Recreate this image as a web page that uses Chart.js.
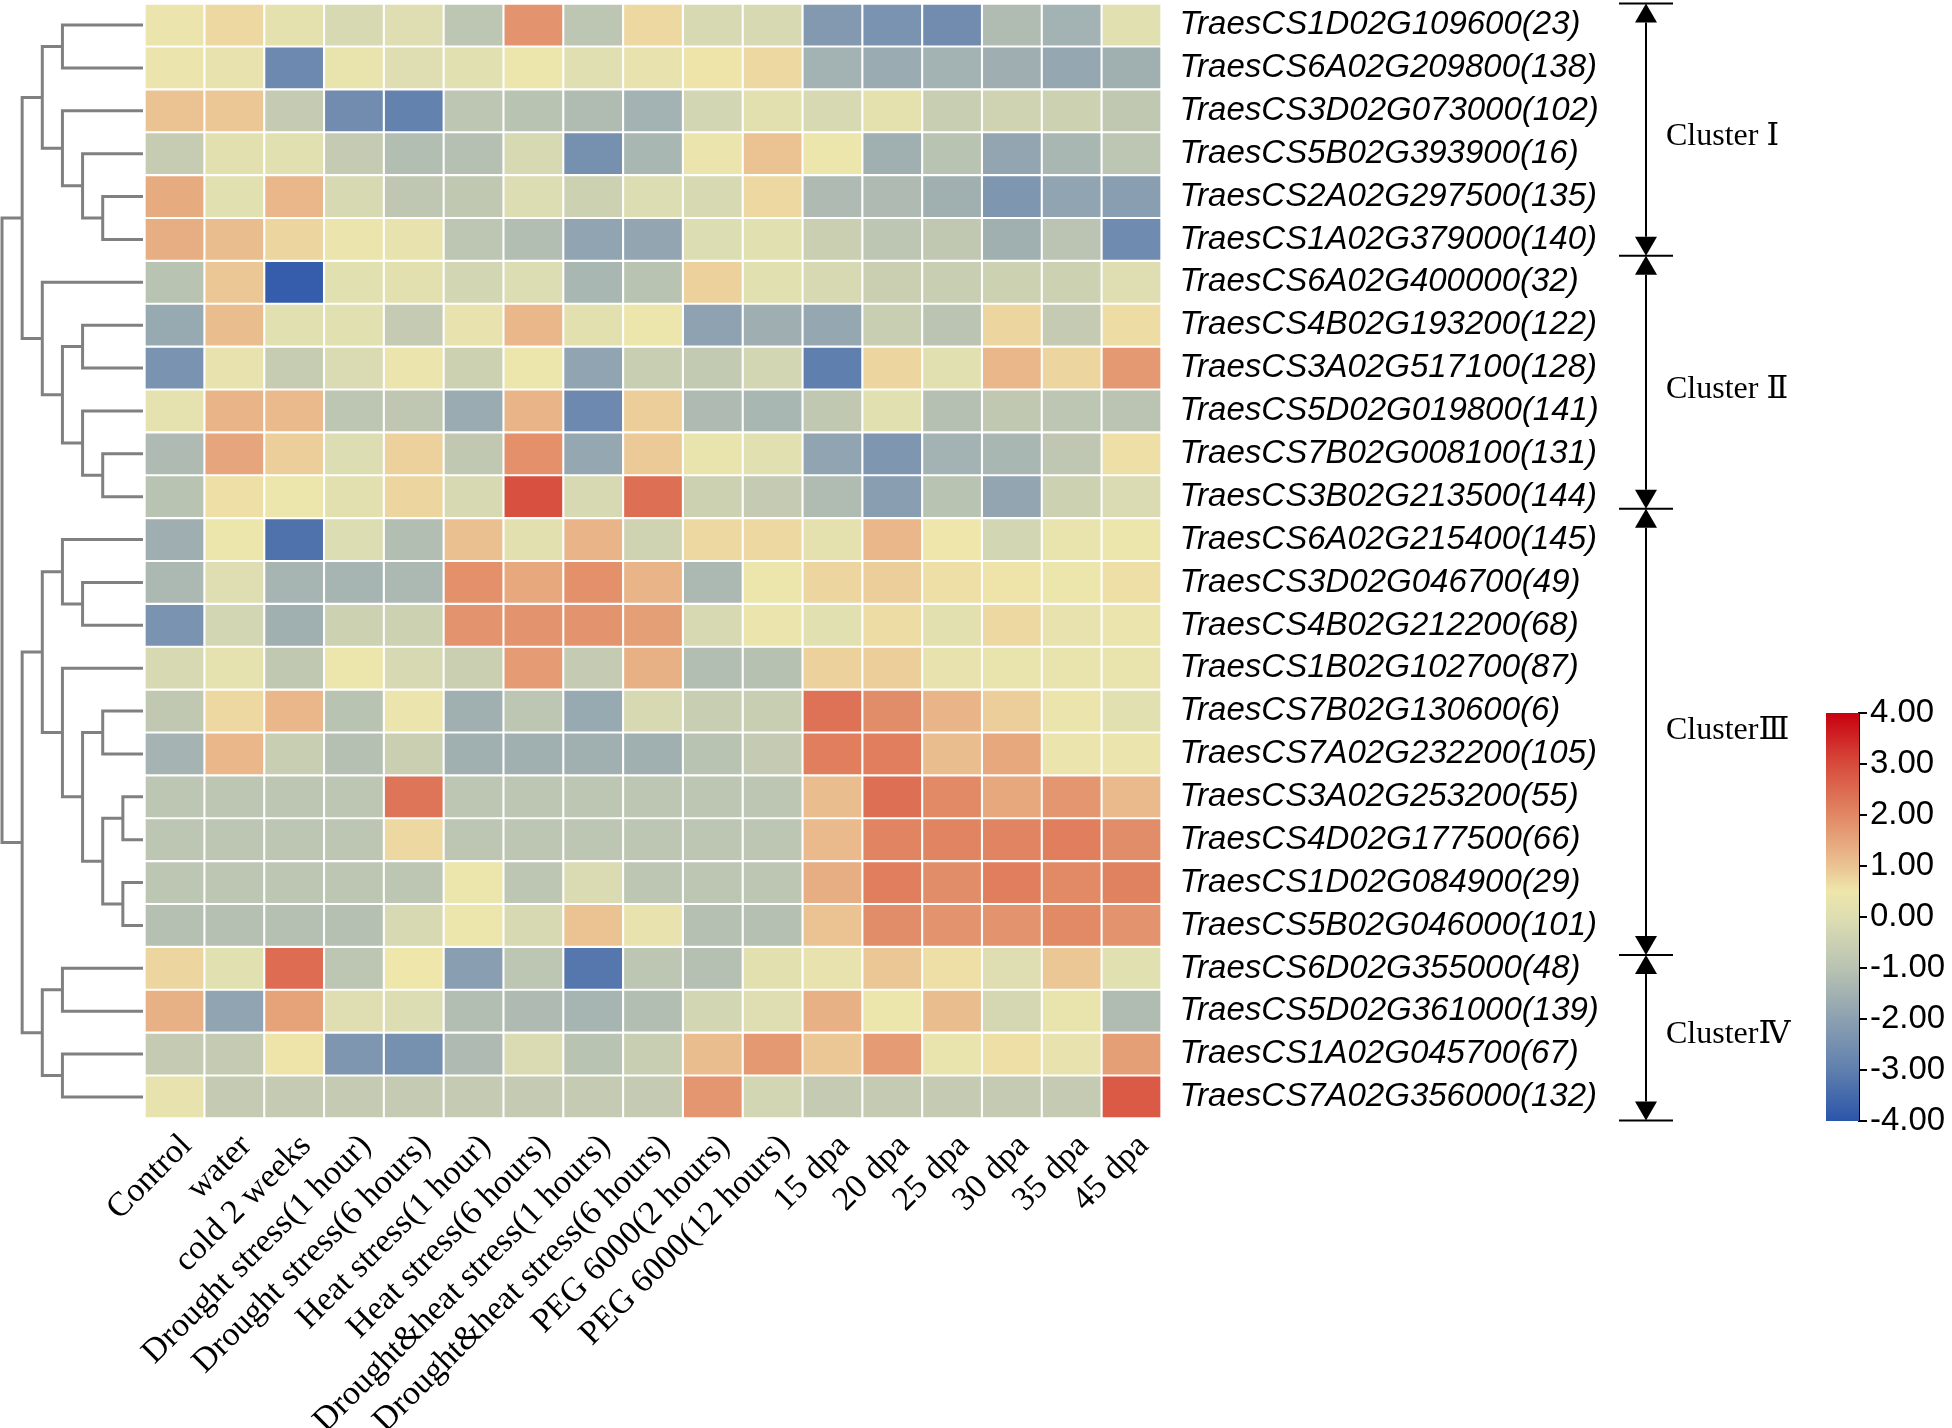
<!DOCTYPE html>
<html>
<head>
<meta charset="utf-8">
<script src="https://cdn.jsdelivr.net/npm/chart.js@4.4.1/dist/chart.umd.min.js"></script>
<style>
  body { margin: 0; background: #fff; }
  #wrap { position: relative; width: 1952px; height: 1428px; }
  canvas { position: absolute; }
</style>
</head>
<body>
<div id="wrap">
  <canvas id="heat" width="1952" height="1428" style="left:0;top:0"></canvas>
  <canvas id="scale" width="252" height="470" style="left:1700px;top:680px"></canvas>
</div>
<script>
// Sample / treatment columns
const columns = [
    'Control', 'water', 'cold 2 weeks',
    'Drought stress(1 hour)', 'Drought stress(6 hours)',
    'Heat stress(1 hour)', 'Heat stress(6 hours)',
    'Drought&heat stress(1 hours)', 'Drought&heat stress(6 hours)',
    'PEG 6000(2 hours)', 'PEG 6000(12 hours)',
    '15 dpa', '20 dpa', '25 dpa', '30 dpa', '35 dpa', '45 dpa'
];

// Genes, top to bottom
const genes = [
    'TraesCS1D02G109600(23)', 'TraesCS6A02G209800(138)', 'TraesCS3D02G073000(102)',
    'TraesCS5B02G393900(16)', 'TraesCS2A02G297500(135)', 'TraesCS1A02G379000(140)',
    'TraesCS6A02G400000(32)', 'TraesCS4B02G193200(122)', 'TraesCS3A02G517100(128)',
    'TraesCS5D02G019800(141)', 'TraesCS7B02G008100(131)', 'TraesCS3B02G213500(144)',
    'TraesCS6A02G215400(145)', 'TraesCS3D02G046700(49)', 'TraesCS4B02G212200(68)',
    'TraesCS1B02G102700(87)', 'TraesCS7B02G130600(6)', 'TraesCS7A02G232200(105)',
    'TraesCS3A02G253200(55)', 'TraesCS4D02G177500(66)', 'TraesCS1D02G084900(29)',
    'TraesCS5B02G046000(101)', 'TraesCS6D02G355000(48)', 'TraesCS5D02G361000(139)',
    'TraesCS1A02G045700(67)', 'TraesCS7A02G356000(132)'
];

// Scaled expression, one row per gene (same order as columns)
const expr = [
    [0.4, 0.7, 0.2, -0.2, 0, -0.9, 1.8, -0.9, 0.7, -0.2, -0.2, -2.2, -2.4, -2.6, -1.2, -1.5, 0.1],
    [0.4, 0.3, -2.7, 0.35, 0, 0.1, 0.45, 0.05, 0.3, 0.55, 0.7, -1.5, -1.7, -1.5, -1.6, -1.8, -1.55],
    [1.0, 0.95, -0.7, -2.6, -2.9, -0.9, -1.0, -1.2, -1.5, -0.3, 0.15, -0.2, 0.2, -0.6, -0.4, -0.5, -0.8],
    [-0.65, 0.15, 0.1, -0.7, -1.15, -1.1, -0.2, -2.5, -1.35, 0.4, 1.0, 0.45, -1.55, -1.0, -1.85, -1.35, -0.9],
    [1.4, 0.1, 1.2, -0.2, -0.85, -0.8, -0.05, -0.5, -0.05, -0.2, 0.7, -1.25, -1.25, -1.55, -2.3, -1.9, -2.05],
    [1.35, 1.1, 0.75, 0.4, 0.3, -0.9, -1.15, -1.9, -1.85, -0.05, 0.1, -0.55, -0.9, -0.8, -1.55, -0.95, -2.65],
    [-1.0, 0.95, -3.8, 0.1, 0.15, -0.3, -0.05, -1.35, -1.0, 0.8, 0.1, -0.2, -0.55, -0.6, -0.5, -0.5, 0.0],
    [-1.75, 1.1, 0.1, 0.1, -0.7, 0.3, 1.2, 0.15, 0.45, -1.95, -1.6, -1.8, -0.6, -0.95, 0.75, -0.7, 0.65],
    [-2.4, 0.3, -0.65, -0.1, 0.4, -0.5, 0.45, -1.9, -0.6, -0.75, -0.3, -3.0, 0.75, 0.1, 1.2, 0.75, 1.7],
    [0.25, 1.25, 1.15, -0.9, -0.85, -1.7, 1.25, -2.7, 0.85, -1.25, -1.35, -0.8, 0.1, -1.1, -0.8, -0.9, -0.95],
    [-1.25, 1.5, 0.85, -0.05, 0.8, -0.8, 1.85, -1.8, 0.9, 0.35, 0.1, -1.9, -2.3, -1.5, -1.35, -0.85, 0.6],
    [-1.0, 0.6, 0.45, 0.15, 0.75, -0.2, 2.9, -0.2, 2.4, -0.5, -0.7, -1.2, -2.05, -1.0, -1.85, -0.5, -0.1],
    [-1.6, 0.45, -3.3, -0.05, -1.15, 1.05, 0.15, 1.25, -0.4, 0.7, 0.7, 0.2, 1.2, 0.5, -0.3, 0.35, 0.45],
    [-1.3, 0, -1.4, -1.4, -1.3, 1.85, 1.45, 1.85, 1.25, -1.3, 0.45, 0.75, 0.85, 0.6, 0.55, 0.45, 0.6],
    [-2.4, -0.3, -1.55, -0.5, -0.5, 1.8, 1.8, 1.8, 1.6, -0.2, 0.4, 0.1, 0.65, 0.15, 0.7, 0.3, 0.4],
    [-0.2, 0.25, -0.8, 0.45, -0.2, -0.55, 1.65, -0.7, 1.3, -1.15, -1.05, 0.8, 0.85, 0.3, 0.35, 0.35, 0.35],
    [-0.8, 0.7, 1.2, -1.0, 0.4, -1.55, -0.9, -1.75, -0.2, -0.6, -0.6, 2.35, 1.9, 1.25, 0.85, 0.4, 0.1],
    [-1.45, 1.2, -0.6, -1.1, -0.55, -1.55, -1.55, -1.55, -1.55, -1.0, -0.7, 2.15, 2.15, 1.1, 1.45, 0.4, 0.4],
    [-0.9, -0.9, -0.9, -0.9, 2.3, -0.9, -0.9, -0.9, -0.9, -0.9, -0.9, 1.1, 2.4, 1.95, 1.45, 1.75, 1.15],
    [-0.9, -0.9, -0.9, -0.9, 0.7, -0.9, -0.9, -0.9, -0.9, -0.9, -0.9, 1.15, 2.05, 2.05, 2.05, 2.15, 1.9],
    [-0.9, -0.9, -0.9, -0.9, -0.9, 0.45, -0.9, -0.1, -0.9, -0.9, -0.9, 1.35, 2.15, 1.9, 2.15, 1.95, 2.1],
    [-1.1, -1.1, -1.1, -1.1, -0.2, 0.45, -0.2, 1.0, 0.3, -1.1, -1.1, 1.0, 1.9, 1.8, 1.8, 1.95, 1.8],
    [0.75, 0.1, 2.45, -0.9, 0.5, -2.05, -0.9, -3.2, -0.9, -1.1, 0.15, 0.3, 0.95, 0.6, 0.0, 0.95, 0.1],
    [1.3, -1.9, 1.55, 0.0, -0.05, -1.15, -1.25, -1.4, -1.15, -0.3, 0, 1.3, 0.45, 1.1, -0.25, 0.35, -1.2],
    [-0.7, -0.7, 0.55, -2.3, -2.5, -1.25, -0.1, -1.0, -0.6, 1.1, 1.7, 0.95, 1.65, 0.35, 0.6, 0.3, 1.6],
    [0.3, -0.7, -0.7, -0.7, -0.7, -0.7, -0.7, -0.7, -0.7, 1.75, -0.3, -0.7, -0.7, -0.7, -0.7, -0.7, 2.75]
];

// Row dendrogram: [child A, child B, merge level]; leaves are 0..25, merge k gets id 26 + k.
// Level 0 is the root, leaves sit at level 7.
const merges = [
    [4, 5, 5], [3, 26, 4], [2, 27, 3], [0, 1, 3], [29, 28, 2],                  // Cluster I (30)
    [7, 8, 4], [10, 11, 5], [9, 32, 4], [31, 33, 3], [6, 34, 2],                // Cluster II (35)
    [30, 35, 1],
    [13, 14, 4], [12, 37, 3], [16, 17, 5], [18, 19, 6], [20, 21, 6],
    [40, 41, 5], [39, 42, 4], [15, 43, 3], [38, 44, 2],                         // Cluster III (45)
    [22, 23, 3], [24, 25, 3], [46, 47, 2],                                      // Cluster IV (48)
    [45, 48, 1], [36, 49, 0]
];
const leafLevel = 7;

// Cluster brackets (edges and label positions in row units)
const clusterNames = ['Cluster \u2160', 'Cluster \u2161', 'Cluster\u2162', 'Cluster\u2163'];
const clusterEdges = [0, 5.88, 11.78, 22.19, 26.05];
const clusterLabelRows = [3.1, 9.0, 16.95, 24.05];

// Colour scale
const scaleStops = [-4, -3, -2, -1, 0, 0.5, 1, 2, 3, 4];
const scaleColors = ['#2b55aa', '#5f7fae', '#8ca0b1', '#b9c3b2', '#dedeb2',
                     '#eee6ab', '#ebc393', '#e18764', '#d74b3c', '#c8000f'];
const scaleTicks = [-4, -3, -2, -1, 0, 1, 2, 3, 4];

// Interpolate the colour scale for one value
function valueColor(v) {
    const rgb = h => [1, 3, 5].map(i => parseInt(h.substr(i, 2), 16));
    if (v <= scaleStops[0]) return scaleColors[0];
    for (let i = 1; i < scaleStops.length; i++) {
        if (v <= scaleStops[i]) {
            const t = (v - scaleStops[i - 1]) / (scaleStops[i] - scaleStops[i - 1]);
            const a = rgb(scaleColors[i - 1]), b = rgb(scaleColors[i]);
            const c = a.map((x, k) => Math.round(x + (b[k] - x) * t));
            return `rgb(${c[0]}, ${c[1]}, ${c[2]})`;
        }
    }
    return scaleColors[scaleColors.length - 1];
}

Chart.defaults.color = '#000';
Chart.defaults.font.family = '"Liberation Sans", Arial, sans-serif';

// Heatmap: one floating horizontal bar dataset per column
const heatSets = columns.map((col, j) => ({
    type: 'bar',
    label: col,
    indexAxis: 'y',
    xAxisID: 'x',
    yAxisID: 'y',
    data: genes.map(() => [j, j + 1]),
    backgroundColor: expr.map(row => valueColor(row[j])),
    borderColor: '#ffffff',
    borderWidth: 1.4,
    borderSkipped: false,
    barPercentage: 1,
    categoryPercentage: 1,
    grouped: false
}));

// Dendrogram: one elbow line per merge
const nodeY = genes.map((g, i) => i + 0.5);
const nodeLevel = genes.map(() => leafLevel);
const treeSets = merges.map(([a, b, lvl]) => {
    nodeY.push((nodeY[a] + nodeY[b]) / 2);
    nodeLevel.push(lvl);
    return {
        type: 'line',
        indexAxis: 'x',
        xAxisID: 'xd',
        yAxisID: 'yd',
        data: [
            { x: nodeLevel[a], y: nodeY[a] },
            { x: lvl, y: nodeY[a] },
            { x: lvl, y: nodeY[b] },
            { x: nodeLevel[b], y: nodeY[b] }
        ],
        borderColor: '#808080',
        borderWidth: 3,
        borderJoinStyle: 'miter',
        pointRadius: 0,
        fill: false,
        tension: 0,
        clip: false
    };
});

// Brackets with arrow heads and cluster names on the right
const clusterBrackets = {
    id: 'clusterBrackets',
    afterDraw(chart) {
        const c = chart.ctx;
        const ys = chart.scales.yd;
        const x = 1646, half = 27, aw = 11, ah = 19;
        c.save();
        c.strokeStyle = '#000';
        c.fillStyle = '#000';
        c.lineWidth = 2;
        clusterEdges.forEach(v => {
            const y = ys.getPixelForValue(v);
            c.beginPath(); c.moveTo(x - half, y); c.lineTo(x + half, y); c.stroke();
        });
        c.font = '32px "Liberation Serif", "DejaVu Serif", serif';
        c.textBaseline = 'middle';
        clusterNames.forEach((name, k) => {
            const y0 = ys.getPixelForValue(clusterEdges[k]);
            const y1 = ys.getPixelForValue(clusterEdges[k + 1]);
            c.beginPath(); c.moveTo(x, y0 + ah); c.lineTo(x, y1 - ah); c.stroke();
            c.beginPath(); c.moveTo(x, y0); c.lineTo(x - aw, y0 + ah); c.lineTo(x + aw, y0 + ah); c.closePath(); c.fill();
            c.beginPath(); c.moveTo(x, y1); c.lineTo(x - aw, y1 - ah); c.lineTo(x + aw, y1 - ah); c.closePath(); c.fill();
            c.fillText(name, 1666, ys.getPixelForValue(clusterLabelRows[k]));
        });
        c.restore();
    }
};

new Chart(document.getElementById('heat'), {
    type: 'bar',
    data: { labels: genes, datasets: [...heatSets, ...treeSets] },
    options: {
        responsive: false,
        animation: false,
        events: [],
        layout: { padding: { left: 144.6, top: 3.6, right: 330, bottom: 0 } },
        plugins: { legend: { display: false }, tooltip: { enabled: false } },
        scales: {
            x: { type: 'linear', min: 0, max: columns.length, offset: false, display: false },
            xd: { type: 'linear', min: 7.08, max: 57.57, offset: false, display: false },
            yd: { type: 'linear', min: 0, max: genes.length, reverse: true, offset: false, display: false },
            xl: {
                type: 'category',
                labels: columns,
                offset: true,
                position: 'bottom',
                grid: { display: false, drawTicks: false },
                border: { display: false },
                ticks: {
                    autoSkip: false,
                    minRotation: 45,
                    maxRotation: 45,
                    padding: 8,
                    labelOffset: 12,
                    color: '#000',
                    font: { family: '"Liberation Serif", "Times New Roman", serif', size: 34 }
                },
                afterFit(s) { s.height = 1428 - 1118.4; s.paddingLeft = 0; s.paddingRight = 0; }
            },
            y: {
                type: 'category',
                position: 'right',
                offset: true,
                grid: { display: false, drawTicks: false },
                border: { display: false },
                ticks: {
                    autoSkip: false,
                    padding: 18,
                    color: '#000',
                    font: { family: '"Liberation Sans", Arial, sans-serif', size: 33, style: 'italic' }
                },
                afterFit(s) { s.width = 460.6; s.paddingTop = 0; s.paddingBottom = 0; }
            }
        }
    },
    plugins: [clusterBrackets]
});

// Colour key
new Chart(document.getElementById('scale'), {
    type: 'bar',
    data: {
        labels: [''],
        datasets: [{
            data: [[scaleTicks[0], scaleTicks[scaleTicks.length - 1]]],
            backgroundColor(ctx) {
                const area = ctx.chart.chartArea;
                if (!area) return '#ffffff';
                const g = ctx.chart.ctx.createLinearGradient(0, area.bottom, 0, area.top);
                const lo = scaleStops[0], hi = scaleStops[scaleStops.length - 1];
                scaleStops.forEach((v, i) => g.addColorStop((v - lo) / (hi - lo), scaleColors[i]));
                return g;
            },
            borderWidth: 0,
            barPercentage: 1,
            categoryPercentage: 1
        }]
    },
    options: {
        responsive: false,
        animation: false,
        events: [],
        layout: { padding: { left: 126, right: 3, top: 33, bottom: 29 } },
        plugins: { legend: { display: false }, tooltip: { enabled: false } },
        scales: {
            x: { display: false },
            y: {
                position: 'right',
                min: scaleTicks[0],
                max: scaleTicks[scaleTicks.length - 1],
                ticks: {
                    stepSize: 1,
                    padding: 3,
                    color: '#000',
                    font: { family: '"Liberation Sans", Arial, sans-serif', size: 33 },
                    callback: v => Number(v).toFixed(2)
                },
                grid: { drawOnChartArea: false, color: '#000', lineWidth: 2, tickLength: 8 },
                border: { color: '#000', width: 2 },
                afterFit(s) { s.width = 90; }
            }
        }
    }
});
</script>
</body>
</html>
